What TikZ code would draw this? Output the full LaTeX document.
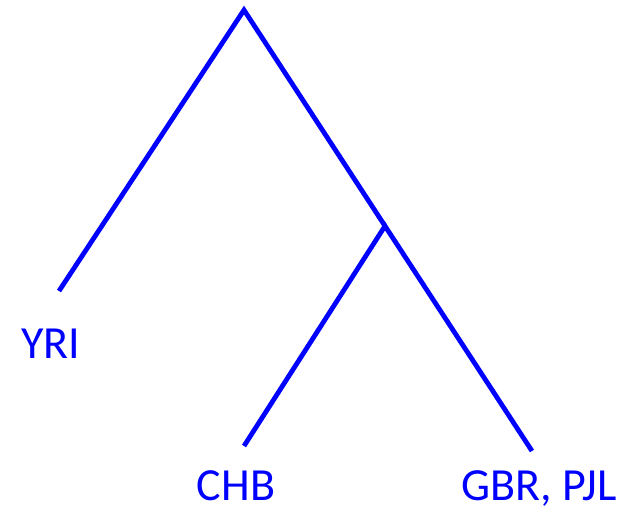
\documentclass[tikz,border=0pt]{standalone}
\usepackage{fontspec}
\setmainfont{Carlito}
\definecolor{tblue}{RGB}{0,0,255}
\begin{document}
\begin{tikzpicture}[x=1pt,y=-1pt,
  branch/.style={draw=tblue,line width=4.8pt,line join=miter},
  lbl/.style={text=tblue,font=\fontsize{46}{52}\selectfont,anchor=base,inner sep=0pt}]
\useasboundingbox (0,0) rectangle (633,512);
\coordinate (root) at (244,10);
\coordinate (yri) at (59,291);
\coordinate (mid) at (385,226);
\coordinate (chb) at (244,446);
\coordinate (gbr) at (532,451);
\draw[branch] (yri) -- (root) -- (mid);
\draw[branch] (chb) -- (mid) -- (gbr);
\node[lbl] (lyri) at (51,358) {YRI};
\node[lbl] (lchb) at (236,500) {CHB};
\node[lbl] (lgbr) at (539,500) {GBR, PJL};
\end{tikzpicture}
\end{document}
